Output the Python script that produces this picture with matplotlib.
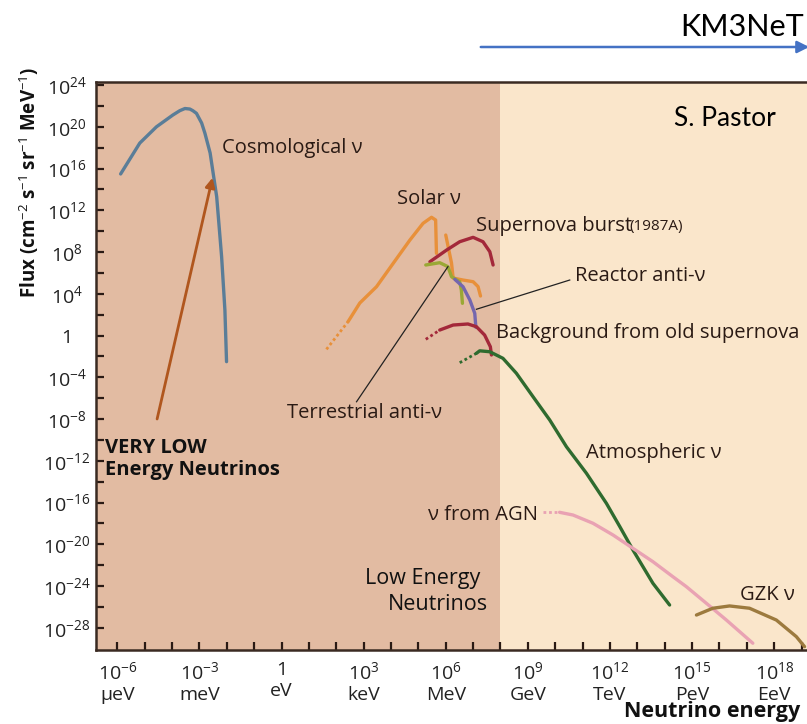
import numpy as np
import matplotlib
matplotlib.use('Agg')
import matplotlib.pyplot as plt

plt.rcParams['font.family'] = ['Open Sans', 'DejaVu Sans']
plt.rcParams['mathtext.fontset'] = 'custom'
plt.rcParams['mathtext.rm'] = 'Open Sans'
plt.rcParams['mathtext.it'] = 'Open Sans'
plt.rcParams['mathtext.bf'] = 'Open Sans:bold'

# curves given as log10(energy / eV) and log10(flux)
cosmo_x = [-5.88, -5.18, -4.57, -3.97, -3.72, -3.53, -3.35, -3.24, -3.11, -2.92, -2.80, -2.61, -2.37, -2.19, -2.07, -2.01]
cosmo_y = [15.48, 18.44, 20.0, 21.13, 21.54, 21.75, 21.7, 21.54, 21.29, 20.36, 19.38, 17.49, 13.3, 7.55, 2.45, -2.5]

solar_dot_x = [1.64, 2.43]
solar_dot_y = [-1.32, 1.33]
solar_x = [2.43, 2.86, 3.47, 4.08, 4.69, 5.17, 5.48, 5.63, 5.66]
solar_y = [1.33, 3.12, 4.68, 6.92, 9.15, 10.75, 11.33, 11.07, 7.88]
solar_b8_x = [6.0, 6.21, 6.27, 6.63, 7.0, 7.18, 7.27]
solar_b8_y = [9.63, 6.95, 5.51, 5.32, 5.16, 4.69, 3.79]

sn_x = [5.42, 6.03, 6.51, 7.0, 7.36, 7.61, 7.73]
sn_y = [7.07, 8.19, 8.99, 9.41, 8.99, 8.03, 6.76]

terr_x = [5.27, 5.78, 6.08, 6.21, 6.51, 6.57, 6.61]
terr_y = [6.76, 6.98, 6.6, 5.64, 5.16, 4.36, 3.09]

reac_x = [6.33, 6.63, 6.88, 7.06, 7.10]
reac_y = [5.39, 4.68, 3.41, 2.13, 0.79]

old_dot_x = [5.27, 5.78]
old_dot_y = [-0.36, 0.53]
old_x = [5.78, 6.27, 6.81, 7.12, 7.42, 7.63, 7.67]
old_y = [0.53, 1.01, 1.11, 0.85, 0.05, -1.07, -1.86]

atm_dot_x = [6.51, 7.12]
atm_dot_y = [-2.6, -1.7]
atm_x = [7.12, 7.24, 7.61, 8.09, 8.58, 9.19, 9.80, 10.41, 11.14, 11.87, 12.36, 12.84, 13.57, 14.18]
atm_y = [-1.7, -1.46, -1.55, -2.18, -3.61, -5.86, -8.09, -10.65, -13.19, -16.07, -18.3, -20.54, -23.73, -25.81]

agn_dot_x = [9.55, 10.16]
agn_dot_y = [-16.93, -16.93]
agn_x = [10.16, 10.65, 11.38, 12.11, 12.84, 13.57, 14.30, 14.79, 15.52, 16.25, 17.22]
agn_y = [-16.93, -17.19, -17.98, -19.1, -20.38, -21.66, -23.1, -24.05, -25.64, -27.24, -29.47]

gzk_x = [15.16, 15.76, 16.37, 17.10, 18.08, 18.81, 19.11]
gzk_y = [-26.77, -26.12, -25.9, -26.12, -27.25, -28.84, -29.8]

xtick_exp = [-6, -3, 0, 3, 6, 9, 12, 15, 18]
xtick_units = ['μeV', 'meV', 'eV', 'keV', 'MeV', 'GeV', 'TeV', 'PeV', 'EeV']
ytick_exp = list(range(-28, 25, 4))


def p(v):
    return 10.0 ** np.asarray(v)


fig = plt.figure(figsize=(8.07, 7.24), dpi=100)
ax = fig.add_axes([96 / 807, 74 / 724, 1 - 96 / 807, 568 / 724])
ax.set_xscale('log')
ax.set_yscale('log')
xmin, xmax = 10 ** -6.78, 10 ** 19.2
ax.set_xlim(xmin, xmax)
ax.set_ylim(10 ** -30.12, 10 ** 24.29)

ax.set_facecolor('#FAE6CB')
ax.axvspan(xmin, 1e8, color='#E2BBA2', lw=0, zorder=0)

lw = 2.4
kw = dict(lw=lw, solid_capstyle='round', solid_joinstyle='round')
dot = dict(lw=2, ls=(0, (1, 1)))
ax.plot(p(cosmo_x), p(cosmo_y), color='#5A7D98', **kw)
ax.plot(p(solar_dot_x), p(solar_dot_y), color='#E8903A', **dot)
ax.plot(p(solar_x), p(solar_y), color='#E8903A', **kw)
ax.plot(p(solar_b8_x), p(solar_b8_y), color='#E8903A', **kw)
ax.plot(p(sn_x), p(sn_y), color='#A3283A', **kw)
ax.plot(p(terr_x), p(terr_y), color='#9AA835', **kw)
ax.plot(p(reac_x), p(reac_y), color='#7466AE', **kw)
ax.plot(p(old_dot_x), p(old_dot_y), color='#A3283A', **dot)
ax.plot(p(old_x), p(old_y), color='#A3283A', **kw)
ax.plot(p(atm_dot_x), p(atm_dot_y), color='#2F6B2F', **dot)
ax.plot(p(atm_x), p(atm_y), color='#2F6B2F', **kw)
ax.plot(p(agn_dot_x), p(agn_dot_y), color='#E9A2B3', **dot)
ax.plot(p(agn_x), p(agn_y), color='#E9A2B3', **kw)
ax.plot(p(gzk_x), p(gzk_y), color='#9C7A3E', **kw)

# arrow to the cosmological curve
ax.annotate('', xy=p([-2.5, 15.38]), xytext=p([-4.57, -8.25]),
            arrowprops=dict(arrowstyle='-|>', color='#B0561E', lw=2, mutation_scale=14))
# leader lines
ax.plot(p([7.12, 10.53]), p([2.52, 5.32]), color='#222222', lw=0.9)
ax.plot(p([2.74, 6.08]), p([-6.34, 6.6]), color='#222222', lw=0.9)

fs = 14.5
tc = '#2a1a14'
ax.text(p(-2.18), p(17.97), 'Cosmological ν', fontsize=fs, color=tc, va='center')
ax.text(p(4.21), p(13.08), 'Solar ν', fontsize=fs, color=tc, va='center')
ax.text(p(7.10), p(10.49), 'Supernova burst', fontsize=fs, color=tc, va='center')
ax.text(p(12.7), p(10.49), '(1987A)', fontsize=11, color=tc, va='center')
ax.text(p(10.71), p(5.70), 'Reactor anti-ν', fontsize=fs, color=tc, va='center')
ax.text(p(7.83), p(0.25), 'Background from old supernova', fontsize=fs, color=tc, va='center')
ax.text(p(0.19), p(-7.42), 'Terrestrial anti-ν', fontsize=fs, color=tc, va='center')
ax.text(p(11.11), p(-11.25), 'Atmospheric ν', fontsize=fs, color=tc, va='center')
ax.text(p(9.36), p(-17.19), 'ν from AGN', fontsize=fs, color=tc, va='center', ha='right')
ax.text(p(16.77), p(-24.85), 'GZK ν', fontsize=fs, color=tc, va='center')
ax.text(p(-6.45), p(-11.82), 'VERY LOW\nEnergy Neutrinos', fontsize=14.5, fontweight='bold',
        color='#111111', va='center', linespacing=1.1)
ax.text(p(5.15), p(-23.3), 'Low Energy', fontsize=15.5, color='#111111', va='center', ha='center')
ax.text(p(5.7), p(-25.8), 'Neutrinos', fontsize=15.5, color='#111111', va='center', ha='center')

# ticks: every decade on x, every two decades on y
xlabels = []
for e in range(-6, 20):
    if e in xtick_exp:
        unit = xtick_units[xtick_exp.index(e)]
        xlabels.append('1\n' + unit if e == 0 else '$10^{%d}$\n%s' % (e, unit))
    else:
        xlabels.append('')
ax.set_xticks(p(np.arange(-6, 20)))
ax.set_xticklabels(xlabels)
ax.xaxis.set_minor_locator(matplotlib.ticker.NullLocator())
ax.set_yticks(p(np.arange(-28, 25, 2)))
ax.set_yticklabels([('1' if e == 0 else '$10^{%d}$' % e) if e in ytick_exp else ''
                    for e in range(-28, 25, 2)])
ax.yaxis.set_minor_locator(matplotlib.ticker.NullLocator())
ax.tick_params(direction='in', length=6, width=1.6, color='#2a1a14', labelcolor='#222222')
ax.tick_params(axis='x', pad=8, labelsize=14)
ax.tick_params(axis='y', pad=21, labelsize=14)
for lab in ax.get_yticklabels():
    lab.set_horizontalalignment('center')
for s in ['left', 'bottom', 'top']:
    ax.spines[s].set_linewidth(1.8)
    ax.spines[s].set_color('#3a2a22')
ax.spines['right'].set_visible(False)

fig.text(29 / 807, 1 - 182 / 724, 'Flux (cm$^{-2}$ s$^{-1}$ sr$^{-1}$ MeV$^{-1}$)', rotation=90,
         fontsize=13.5, fontweight='bold', ha='center', va='center', color='#111111')
fig.text(800 / 807, 1 - 712 / 724, 'Neutrino energy', fontsize=15.5, fontweight='bold',
         ha='right', va='center', color='#111111')

fig.text(725 / 807, 1 - 118 / 724, 'S. Pastor', fontsize=19, ha='center', va='center',
         family=['Lato', 'DejaVu Sans'])
fig.text(680 / 807, 1 - 27 / 724, 'KM3NeT', fontsize=22, ha='left', va='center',
         family=['Lato', 'DejaVu Sans'])
ax.annotate('', xy=(812, 724 - 47), xytext=(478, 724 - 47), xycoords='figure pixels',
            textcoords='figure pixels', annotation_clip=False,
            arrowprops=dict(arrowstyle='-|>', color='#4472C4', lw=1.8, mutation_scale=18))

fig.savefig('out.png', dpi=100)
